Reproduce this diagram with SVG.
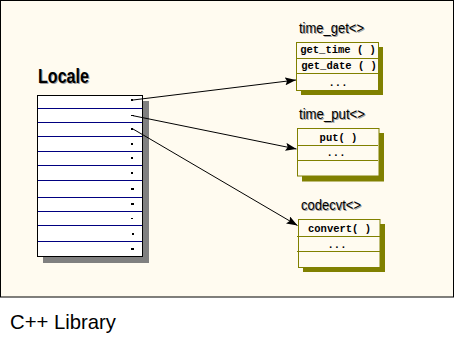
<svg xmlns="http://www.w3.org/2000/svg" width="454" height="340" viewBox="0 0 454 340">
<style>
.lbl{font-family:"Liberation Sans",Arial,sans-serif;font-size:14px;fill:#000}
.sh{fill:#a0a0a0}
.mono{font-family:"Liberation Mono","Courier New",monospace;font-size:10.5px;font-weight:bold;fill:#000;text-anchor:middle}
.box{fill:#fffbf0;stroke:#808000;stroke-width:1}
.oshadow{fill:#808000}
.row{stroke:#808000;stroke-width:1}
.lrow{stroke:#000080;stroke-width:1}
.conn{stroke:#000;stroke-width:1;fill:none;marker-end:url(#arr)}
.dot{fill:#000}
</style>
<defs>
<marker id="arr" markerUnits="userSpaceOnUse" markerWidth="12" markerHeight="8" refX="11" refY="4" orient="auto">
<path d="M0,0 L11,4 L0,8 L2,4 z" fill="#000"/>
</marker>
</defs>
<rect x="0.5" y="0.5" width="453" height="296.5" fill="#fffbf0" stroke="#000" stroke-width="1"/>
<g id="locale">
<text x="39" y="84" class="sh" font-family="Liberation Sans, Arial, sans-serif" font-size="20" font-weight="bold" textLength="51" lengthAdjust="spacingAndGlyphs">Locale</text>
<text x="38" y="83" font-family="Liberation Sans, Arial, sans-serif" font-size="20" font-weight="bold" textLength="51" lengthAdjust="spacingAndGlyphs">Locale</text>
<rect x="43" y="101" width="106" height="162" fill="#808080"/>
<rect x="37.5" y="95.5" width="105" height="161" fill="#fff" stroke="#000"/>
<line class="lrow" x1="38" y1="108.5" x2="142" y2="108.5"/>
<line class="lrow" x1="38" y1="122.5" x2="142" y2="122.5"/>
<line class="lrow" x1="38" y1="136.5" x2="142" y2="136.5"/>
<line class="lrow" x1="38" y1="151.5" x2="142" y2="151.5"/>
<line class="lrow" x1="38" y1="165.5" x2="142" y2="165.5"/>
<line class="lrow" x1="38" y1="180.5" x2="142" y2="180.5"/>
<line class="lrow" x1="38" y1="197.5" x2="142" y2="197.5"/>
<line class="lrow" x1="38" y1="211.5" x2="142" y2="211.5"/>
<line class="lrow" x1="38" y1="225.5" x2="142" y2="225.5"/>
<line class="lrow" x1="38" y1="241.5" x2="142" y2="241.5"/>
<rect class="dot" x="131" y="99" width="2" height="2"/>
<rect class="dot" x="131" y="115" width="3" height="1"/>
<rect class="dot" x="131" y="128" width="2" height="2"/>
<rect class="dot" x="131" y="143" width="2" height="2"/>
<rect class="dot" x="131" y="157" width="2" height="2"/>
<rect class="dot" x="131" y="172" width="2" height="2"/>
<rect class="dot" x="131" y="188" width="3" height="2"/>
<rect class="dot" x="131" y="203" width="3" height="2"/>
<rect class="dot" x="131" y="218" width="2" height="1"/>
<rect class="dot" x="132" y="233" width="2" height="2"/>
<rect class="dot" x="131" y="248" width="3" height="2"/>
</g>
<g id="time_get">
<text x="300" y="34" class="lbl sh" textLength="65" lengthAdjust="spacingAndGlyphs">time_get&lt;&gt;</text>
<text x="299" y="33" class="lbl" textLength="65" lengthAdjust="spacingAndGlyphs">time_get&lt;&gt;</text>
<rect class="oshadow" x="301" y="47" width="82" height="48"/>
<rect class="box" x="296.5" y="42.5" width="82" height="48"/>
<line class="row" x1="297" y1="58.5" x2="378" y2="58.5"/>
<line class="row" x1="297" y1="73.5" x2="378" y2="73.5"/>
<text class="mono" x="338" y="53">get_time ( )</text>
<text class="mono" x="339" y="69">get_date ( )</text>
<text class="mono" x="338" y="86">...</text>
</g>
<g id="time_put">
<text x="300" y="120" class="lbl sh" textLength="66" lengthAdjust="spacingAndGlyphs">time_put&lt;&gt;</text>
<text x="299" y="119" class="lbl" textLength="66" lengthAdjust="spacingAndGlyphs">time_put&lt;&gt;</text>
<rect class="oshadow" x="302" y="133" width="82" height="48.5"/>
<rect class="box" x="297.5" y="128.5" width="81.5" height="47.5"/>
<line class="row" x1="298" y1="145.5" x2="378" y2="145.5"/>
<line class="row" x1="297" y1="160.5" x2="378" y2="160.5"/>
<text class="mono" x="338.5" y="140.5">put( )</text>
<text class="mono" x="336" y="156">...</text>
</g>
<g id="codecvt">
<text x="302" y="211" class="lbl sh" textLength="60" lengthAdjust="spacingAndGlyphs">codecvt&lt;&gt;</text>
<text x="301" y="210" class="lbl" textLength="60" lengthAdjust="spacingAndGlyphs">codecvt&lt;&gt;</text>
<rect class="oshadow" x="303" y="224" width="82" height="48"/>
<rect class="box" x="298.5" y="219.5" width="81.5" height="48"/>
<line class="row" x1="297" y1="236.5" x2="380" y2="236.5"/>
<line class="row" x1="297" y1="251.5" x2="380" y2="251.5"/>
<text class="mono" x="339.5" y="232">convert( )</text>
<text class="mono" x="337" y="248">...</text>
</g>
<g id="connectors">
<path class="conn" d="M133,100 L296,80"/>
<path class="conn" d="M133,115.7 L296.5,149"/>
<path class="conn" d="M133,129 L297.5,225.5"/>
</g>
<text x="10" y="329" font-family="Liberation Sans, Arial, sans-serif" font-size="21" textLength="106" lengthAdjust="spacingAndGlyphs">C++ Library</text>
</svg>
